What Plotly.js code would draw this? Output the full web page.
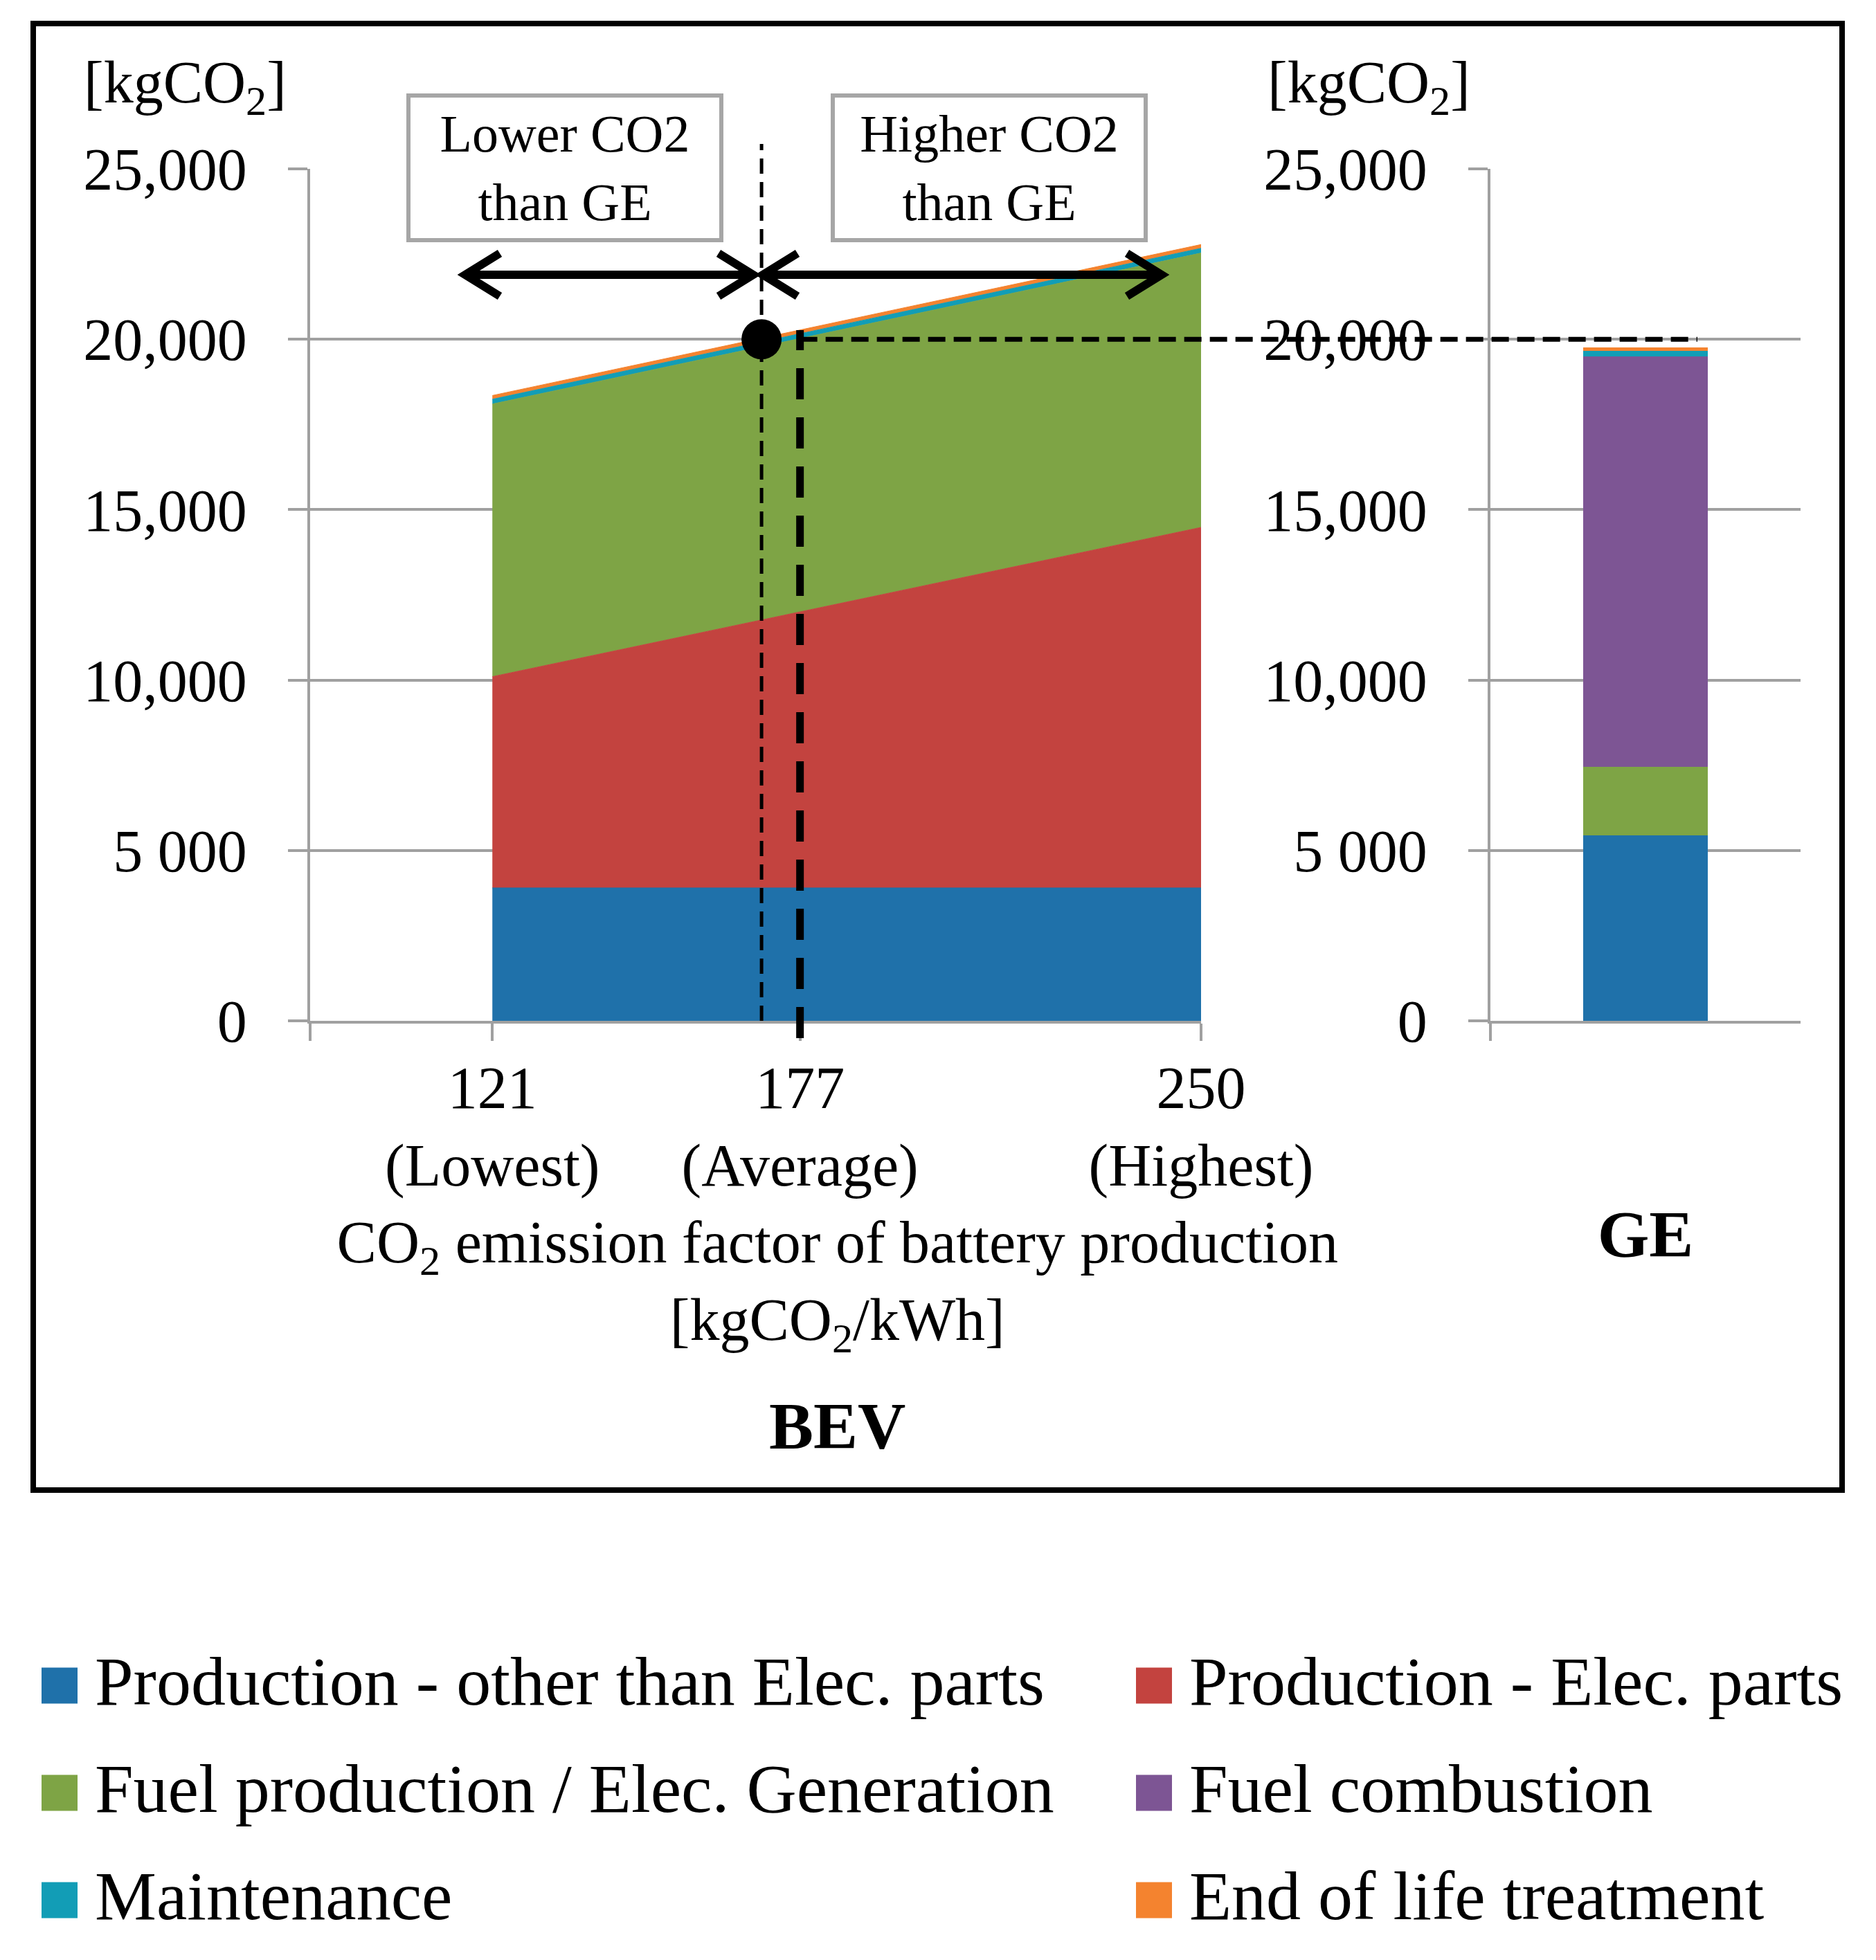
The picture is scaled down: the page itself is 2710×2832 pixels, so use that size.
<!DOCTYPE html>
<html><head><meta charset="utf-8">
<script src="https://cdn.plot.ly/plotly-3.0.1.min.js"></script>
<style>html,body{margin:0;padding:0;background:#fff;} #chart{width:2710px;height:2832px;}</style>
</head><body><div id="chart"></div>
<script>
// ---------------- DATA ----------------
const batteryFactors = [121, 177, 250];
const factorLabels = ['(Lowest)', '(Average)', '(Highest)'];
const seriesNames = ['Production - other than Elec. parts', 'Production - Elec. parts',
  'Fuel production / Elec. Generation', 'Fuel combustion', 'Maintenance', 'End of life treatment'];
// BEV stacked values [kgCO2] at each battery emission factor
const bevProdOther = [3900, 3900, 3900];
const bevProdElec  = [6200, 8100, 10580];
const bevFuelProd  = [8000, 8020, 8050];
const bevMaint     = [140, 140, 140];
const bevEol       = [110, 110, 110];
// GE single bar
const geCategory   = ['GE'];
const geProdOther  = [5450];
const geProdElec   = [0];
const geFuelProd   = [2000];
const geFuelComb   = [12050];
const geMaint      = [150];
const geEol        = [120];
// break-even point and reference level
const breakEvenFactor = [170];
const referenceLevel  = [20000];
const yTickVals = [0, 5000, 10000, 15000, 20000, 25000];
const yTickText = ['0', '5 000', '10,000', '15,000', '20,000', '25,000'];

// ---------------- STYLE / LAYOUT ----------------
const COLORS = ['#1F71AA', '#C3433F', '#7EA445', '#7D5594', '#129DB6', '#F4832F'];
const FONT = 'Liberation Serif, Times New Roman, serif';
const GRID = '#a0a0a0';
const W = 2710, H = 2832;
const PX = v => v / W, PY = v => 1 - v / H;
const xMin = 87.83, xMax = 250, yMax = 25000;
const xDom = [PX(448), PX(1735)];
const x2Dom = [PX(2153), PX(2601)];
const yDom = [PY(1475), PY(244)];
const xPaper = v => xDom[0] + (v - xMin) / (xMax - xMin) * (xDom[1] - xDom[0]);
const yPaper = v => yDom[0] + v / yMax * (yDom[1] - yDom[0]);

const bevSeries = [bevProdOther, bevProdElec, bevFuelProd, bevMaint, bevEol];
const bevColorIdx = [0, 1, 2, 4, 5];
const traces = [];
bevSeries.forEach((s, i) => {
  traces.push({
    type: 'scatter', mode: 'lines', x: batteryFactors, y: s, stackgroup: 'bev',
    name: seriesNames[bevColorIdx[i]], showlegend: false,
    line: {width: 1, color: COLORS[bevColorIdx[i]]}, fillcolor: COLORS[bevColorIdx[i]],
    xaxis: 'x', yaxis: 'y', hoverinfo: 'skip'
  });
});
const geSeries = [geProdOther, geProdElec, geFuelProd, geFuelComb, geMaint, geEol];
geSeries.forEach((s, i) => {
  traces.push({
    type: 'bar', x: geCategory, y: s, name: seriesNames[i], width: 0.4,
    marker: {color: COLORS[i], line: {width: 0}},
    legend: (i % 2 === 0) ? 'legend' : 'legend2', legendgroup: 'g' + i,
    xaxis: 'x2', yaxis: 'y2', hoverinfo: 'skip'
  });
});
traces.push({
  type: 'scatter', mode: 'markers', x: breakEvenFactor, y: referenceLevel,
  marker: {size: 58, color: '#000'}, showlegend: false, cliponaxis: false,
  xaxis: 'x', yaxis: 'y', hoverinfo: 'skip'
});

const tickFont = {family: FONT, size: 86, color: '#000'};
const axisCommon = {
  showline: true, linecolor: GRID, linewidth: 4, ticks: 'outside', tickcolor: GRID,
  tickwidth: 4, zeroline: false, automargin: false, fixedrange: true, tickfont: tickFont
};
const yCommon = Object.assign({}, axisCommon, {
  domain: yDom, range: [0, yMax], tickmode: 'array', tickvals: yTickVals, ticktext: yTickText,
  ticklen: 28, showgrid: true, gridcolor: GRID, gridwidth: 4, ticklabelstandoff: 42
});

const avg = batteryFactors[1];
const totalAvg = bevSeries.reduce((a, s) => a + s[1], 0);

function arrowPaths(xl, xr, y) {
  const ax = 50, ay = 31;
  return [
    `M${PX(xl)},${PY(y)} L${PX(xr)},${PY(y)}`,
    `M${PX(xl + ax)},${PY(y - ay)} L${PX(xl)},${PY(y)} L${PX(xl + ax)},${PY(y + ay)}`,
    `M${PX(xr - ax)},${PY(y - ay)} L${PX(xr)},${PY(y)} L${PX(xr - ax)},${PY(y + ay)}`
  ];
}
const arrowShapes = [...arrowPaths(672, 1088, 397), ...arrowPaths(1102, 1678, 397)].map(p => ({
  type: 'path', xref: 'paper', yref: 'paper', path: p, line: {color: '#000', width: 12}, layer: 'above'
}));

const shapes = [
  {type: 'rect', xref: 'paper', yref: 'paper', x0: PX(48), x1: PX(2661), y0: PY(2153), y1: PY(34),
   line: {color: '#000', width: 8}, layer: 'above'},
  {type: 'line', xref: 'paper', yref: 'paper', x0: xPaper(avg), x1: PX(2452),
   y0: yPaper(referenceLevel[0]), y1: yPaper(referenceLevel[0]),
   line: {color: '#000', width: 7, dash: '25px,12px'}, layer: 'above'},
  {type: 'line', xref: 'x', yref: 'paper', x0: breakEvenFactor[0], x1: breakEvenFactor[0],
   y0: yDom[0], y1: PY(208), line: {color: '#000', width: 5, dash: '22px,12px'}, layer: 'above'},
  {type: 'line', xref: 'x', yref: 'paper', x0: avg, x1: avg,
   y0: PY(1500), y1: yPaper(totalAvg), line: {color: '#000', width: 11, dash: '45px,26px'}, layer: 'above'},
  ...arrowShapes
];

const boxCommon = {xref: 'paper', yref: 'paper', xanchor: 'center', yanchor: 'middle', showarrow: false,
  width: 446, height: 203, bordercolor: '#a6a6a6', borderwidth: 6, borderpad: 0, bgcolor: '#fff',
  font: {family: FONT, size: 76, color: '#000'}};
const annotations = [
  {xref: 'paper', yref: 'paper', x: PX(267), y: PY(125), xanchor: 'center', yanchor: 'middle', showarrow: false,
   text: '[kgCO<sub>2</sub>]', font: {family: FONT, size: 86, color: '#000'}},
  {xref: 'paper', yref: 'paper', x: PX(1977), y: PY(125), xanchor: 'center', yanchor: 'middle', showarrow: false,
   text: '[kgCO<sub>2</sub>]', font: {family: FONT, size: 86, color: '#000'}},
  Object.assign({}, boxCommon, {x: PX(816), y: PY(242), text: 'Lower CO2<br>than GE'}),
  Object.assign({}, boxCommon, {x: PX(1429), y: PY(242), text: 'Higher CO2<br>than GE'}),
  {xref: 'paper', yref: 'paper', x: PX(1209), y: PY(2060), xanchor: 'center', yanchor: 'middle', showarrow: false,
   text: 'BEV', font: {family: FONT, size: 96, color: '#000', weight: 'bold'}}
];

const legendCommon = {
  xanchor: 'left', yanchor: 'top', y: PY(2352), orientation: 'v', bgcolor: 'rgba(0,0,0,0)', borderwidth: 0,
  font: {family: FONT, size: 100, color: '#000'}, itemwidth: 92, traceorder: 'grouped', tracegroupgap: 22,
  itemclick: false, itemdoubleclick: false
};

// shift the x-axis title centre to the right of the plot-area centre, as in the original
const pad = '\u200b' + '\u00a0'.repeat(11);
const layout = {
  width: W, height: H, margin: {l: 0, r: 0, t: 0, b: 0}, paper_bgcolor: '#fff', plot_bgcolor: 'rgba(0,0,0,0)',
  font: {family: FONT, color: '#000'}, barmode: 'stack', hovermode: false,
  xaxis: Object.assign({}, axisCommon, {
    domain: xDom, range: [xMin, xMax], tickmode: 'array',
    tickvals: [xMin].concat(batteryFactors),
    ticktext: [' '].concat(batteryFactors.map((v, i) => v + '<br>' + factorLabels[i])),
    ticklen: 25, showgrid: false, ticklabelstandoff: -6, anchor: 'y',
    title: {text: pad + 'CO<sub>2</sub> emission factor of battery production<br>' + pad + '[kgCO<sub>2</sub>/kWh]',
            font: {family: FONT, size: 86, color: '#000'}, standoff: 34}
  }),
  yaxis: Object.assign({}, yCommon, {anchor: 'x'}),
  xaxis2: Object.assign({}, axisCommon, {
    domain: x2Dom, type: 'category', range: [-0.5, 0.5], tickson: 'boundaries', ticklen: 25,
    showgrid: false, anchor: 'y2', ticklabelstandoff: 222,
    tickfont: {family: FONT, size: 96, color: '#000', weight: 'bold'}
  }),
  yaxis2: Object.assign({}, yCommon, {anchor: 'x2'}),
  legend: Object.assign({}, legendCommon, {x: PX(35)}),
  legend2: Object.assign({}, legendCommon, {x: PX(1616)}),
  shapes: shapes,
  annotations: annotations
};

function enlargeLegendSymbols() {
  document.querySelectorAll('.infolayer g.traces path').forEach(p => {
    if (p.dataset.scaled) return;
    let bb;
    try { bb = p.getBBox(); } catch (e) { return; }
    if (!bb || !bb.width || bb.width > 40) return;
    const s = 52 / bb.width;
    const cx = bb.x + bb.width / 2, cy = bb.y + bb.height / 2;
    const t = p.getAttribute('transform') || '';
    p.setAttribute('transform', `${t} translate(0,12) translate(${cx},${cy}) scale(${s}) translate(${-cx},${-cy})`);
    p.dataset.scaled = '1';
  });
}

Plotly.newPlot('chart', traces, layout, {displayModeBar: false, responsive: false}).then(() => {
  enlargeLegendSymbols();
  setTimeout(enlargeLegendSymbols, 200);
});
</script>
</body></html>
